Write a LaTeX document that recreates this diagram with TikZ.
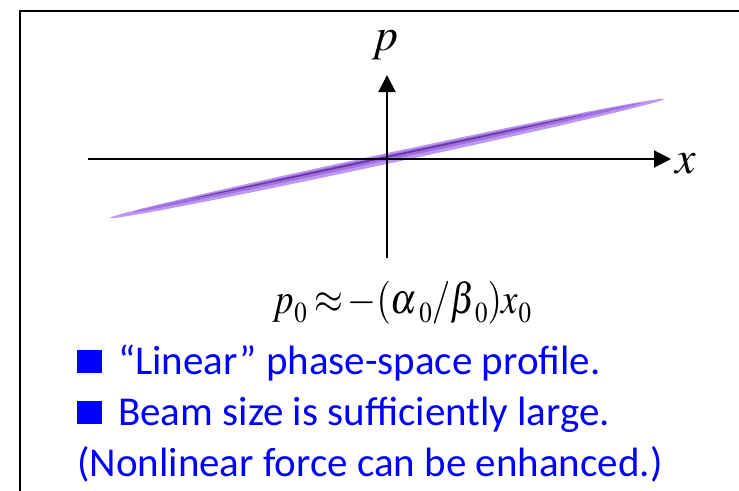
\documentclass[tikz,border=0pt]{standalone}
\usepackage{mathptmx}
\usepackage{graphicx}
\usepackage[no-math]{fontspec}
\setmainfont{Carlito}
\usetikzlibrary{arrows.meta,calc}
\definecolor{txtblue}{RGB}{0,0,255}
\definecolor{beamlight}{RGB}{190,152,240}
\definecolor{beammid}{RGB}{160,112,224}
\definecolor{beamdark}{RGB}{105,55,160}
\newcommand\zsub{\raisebox{-9pt}{\fontsize{29}{29}\selectfont$\mathrm{0}$}}
\tikzset{
  frameline/.style={line width=2pt, black},
  axisline/.style={line width=2pt, black, -{Triangle[length=17pt,width=17pt]}},
  axislabel/.style={inner sep=0pt, font=\fontsize{46}{50}\selectfont},
  formula/.style={inner sep=0pt, font=\fontsize{43}{46}\selectfont},
  bodytext/.style={inner sep=0pt, text=txtblue, font=\fontsize{41}{44}\selectfont},
  bulletsq/.style={fill=txtblue, draw=none, minimum width=25pt, minimum height=23pt, inner sep=0pt}
}
\begin{document}
\begin{tikzpicture}[x=1pt,y=-1pt]
\useasboundingbox (0,0) rectangle (739,490);
% frame
\coordinate (fbl) at (20,491);
\coordinate (ftl) at (20,11);
\coordinate (ftr) at (740,11);
\draw[frameline] (fbl) -- (ftl) -- (ftr);
% beam ellipse
\coordinate (C) at (387,158.5);
\begin{scope}[shift={(C)}, rotate=12.12]
  \fill[beamlight] (0pt,0pt) ellipse [x radius=283.5pt, y radius=5.3pt];
  \fill[beammid] (0pt,0.8pt) ellipse [x radius=260pt, y radius=2.8pt];
  \fill[beamdark] (0pt,1.6pt) ellipse [x radius=200pt, y radius=0.9pt];
\end{scope}
% axes
\coordinate (xl) at (88,159);
\coordinate (xr) at (671,159);
\coordinate (pb) at (387,258);
\coordinate (pt) at (387,75);
\draw[axisline] (xl) -- (xr);
\draw[axisline] (pb) -- (pt);
\node[axislabel, anchor=base] (plab) at (385,50) {$p$};
\node[axislabel, anchor=base] (xlab) at (686,173) {$x$};
% formula
\node[formula, anchor=base] (form) at (402,313) {\scalebox{0.86}[1]{$p\zsub\mkern4mu{\approx}\mkern2mu{-}(\alpha\mkern1mu\zsub/\beta\zsub)x\zsub$}};
% text
\node[bulletsq] (b1) at (89.5,361.5) {};
\node[bulletsq] (b2) at (89.5,412.5) {};
\node[bodytext, anchor=base west] (t1) at (118,374) {“Linear” phase-space profile.};
\node[bodytext, anchor=base west] (t2) at (118,425) {Beam size is sufficiently large.};
\node[bodytext, anchor=base west] (t3) at (77,476) {(Nonlinear force can be enhanced.)};
\end{tikzpicture}
\end{document}
